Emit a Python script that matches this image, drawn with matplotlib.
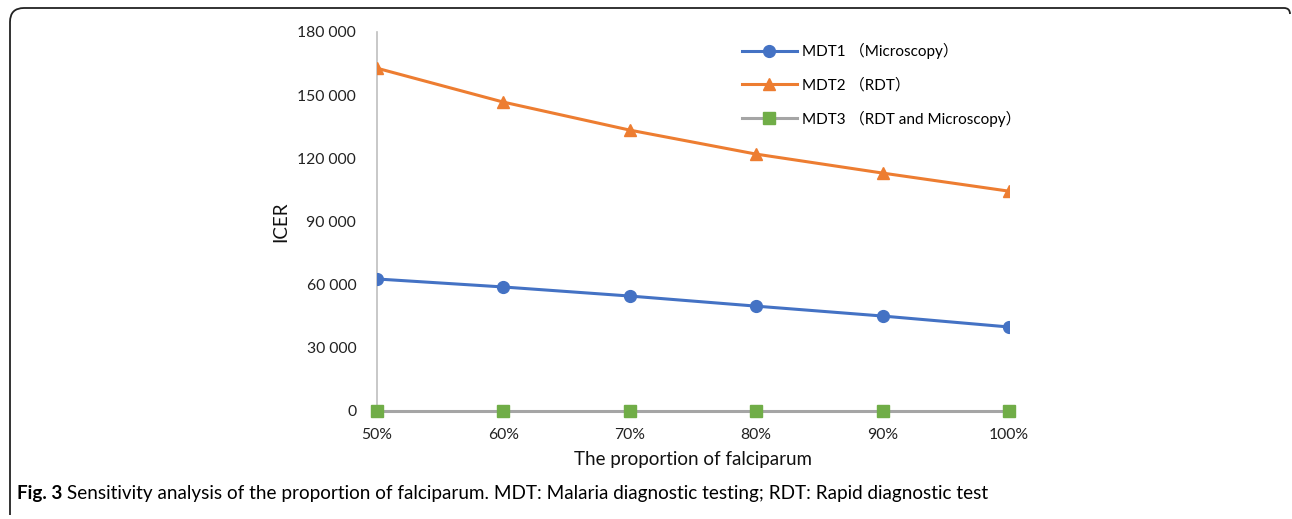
import numpy as np
import matplotlib.pyplot as plt
from matplotlib.path import Path
from matplotlib.patches import PathPatch

# DATA
categories = ["50%", "60%", "70%", "80%", "90%", "100%"]
mdt1 = [62700, 58900, 54600, 49800, 45100, 39900]
mdt2 = [162800, 146700, 133400, 122000, 113000, 104400]
mdt3 = [0, 0, 0, 0, 0, 0]
series_labels = ["MDT1 （Microscopy）", "MDT2 （RDT）", "MDT3 （RDT and Microscopy）"]
yticks = [0, 30000, 60000, 90000, 120000, 150000, 180000]
caption_bold = "Fig. 3"
caption_text = " Sensitivity analysis of the proportion of falciparum. MDT: Malaria diagnostic testing; RDT: Rapid diagnostic test"

FONT = ["Lato", "Noto Sans CJK SC", "DejaVu Sans"]
plt.rcParams["font.family"] = FONT

W, H = 1292, 519
fig = plt.figure(figsize=(W / 100, H / 100), dpi=100)

# axes placed from pixel positions in the reference
ax = fig.add_axes([377 / W, (H - 411) / H, 632 / W, 379 / H])
x = np.arange(len(categories))

ax.plot(x, mdt1, color="#4472C4", lw=2.2, marker="o", ms=8.5, label=series_labels[0], zorder=4)
ax.plot(x, mdt2, color="#ED7D31", lw=2.2, marker="^", ms=9, label=series_labels[1], zorder=4)
ax.plot(x, mdt3, color="#A5A5A5", lw=2.2, marker="s", ms=8, mfc="#70AD47", mec="#70AD47",
        label=series_labels[2], zorder=4, clip_on=False)

ax.set_xlim(0, len(categories) - 1)
ax.set_ylim(0, 180000)
ax.set_xticks(x)
ax.set_xticklabels(categories)
ax.set_yticks(yticks)
ax.set_yticklabels([f"{v:,}".replace(",", " ") for v in yticks])
ax.tick_params(length=0, labelsize=11.3, colors="#222222")
ax.tick_params(axis="y", pad=15)
ax.tick_params(axis="x", pad=12)

for side in ["top", "right"]:
    ax.spines[side].set_visible(False)
ax.spines["left"].set_color("#BFBFBF")
ax.spines["left"].set_linewidth(1.2)
ax.spines["bottom"].set_color("#BFBFBF")
ax.spines["bottom"].set_linewidth(1.2)

ax.set_xlabel("The proportion of falciparum", fontsize=13.5, labelpad=7, color="#111111")
ax.set_ylabel("ICER", fontsize=13.5, labelpad=6, color="#111111")

ax.legend(loc="upper left", bbox_to_anchor=(0.5775, 0.97), frameon=False,
          fontsize=11, handlelength=3.6, handletextpad=0.3, labelspacing=1.2,
          borderaxespad=0, borderpad=0)

# caption under the chart
t = fig.text(17 / W, 1 - 493 / H, caption_bold, fontsize=13.6, fontweight="bold", va="center")
fig.canvas.draw()
bb = t.get_window_extent()
fig.text(bb.x1 / W, 1 - 493 / H, caption_text, fontsize=13.6, va="center")

# rounded frame (top and left sides only)
def px(xp, yp):
    return (xp / W, 1 - yp / H)

verts = [px(10, 515), px(10, 22), px(10, 8), px(24, 8), px(1284, 8), px(1290, 8), px(1290, 14)]
codes = [Path.MOVETO, Path.LINETO, Path.CURVE3, Path.CURVE3, Path.LINETO, Path.CURVE3, Path.CURVE3]
fig.patches.append(PathPatch(Path(verts, codes), fill=False, lw=1.3, edgecolor="#222222",
                             transform=fig.transFigure))

fig.savefig("out.png", dpi=100)
